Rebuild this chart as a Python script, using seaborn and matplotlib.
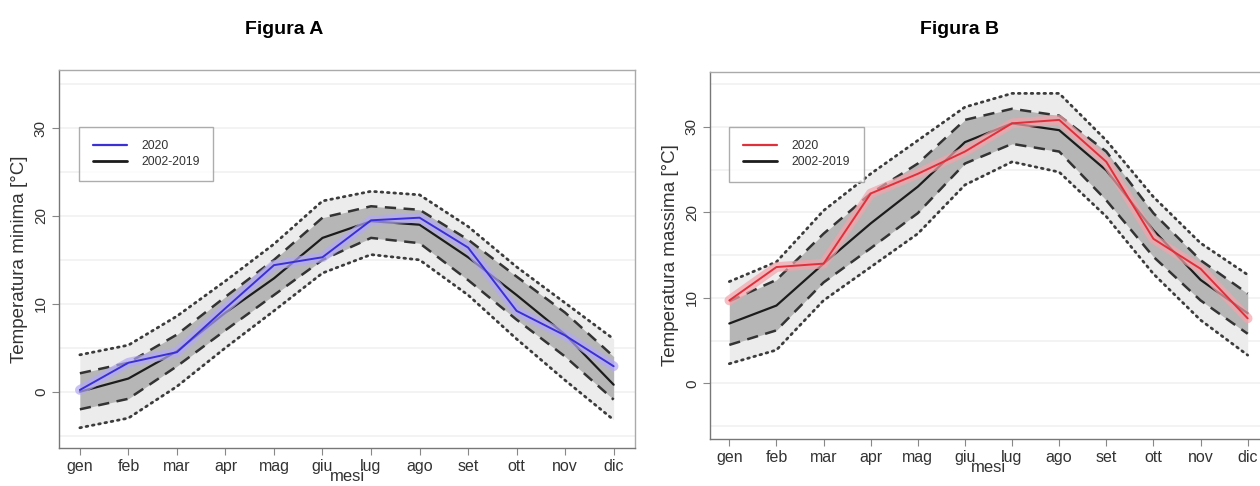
import numpy as np
import pandas as pd
import matplotlib
matplotlib.use("Agg")
import matplotlib.pyplot as plt
import seaborn as sns
from matplotlib.lines import Line2D

months = ["gen", "feb", "mar", "apr", "mag", "giu", "lug", "ago", "set", "ott", "nov", "dic"]

# Figura A - temperatura minima
a_2020 = [0.2, 3.3, 4.5, 9.5, 14.4, 15.3, 19.5, 19.8, 16.4, 9.2, 6.4, 2.9]
a_mean = [0.0, 1.5, 4.6, 9.0, 12.9, 17.5, 19.4, 19.0, 15.3, 11.0, 6.5, 0.8]
a_sd_hi = [2.1, 3.3, 6.5, 10.8, 15.0, 19.8, 21.1, 20.7, 17.3, 13.1, 9.0, 4.0]
a_sd_lo = [-2.0, -0.8, 2.9, 7.0, 11.0, 15.0, 17.5, 16.9, 12.7, 8.2, 4.0, -0.9]
a_2sd_hi = [4.2, 5.3, 8.6, 12.6, 16.8, 21.7, 22.8, 22.4, 18.8, 14.2, 10.1, 6.0]
a_2sd_lo = [-4.1, -3.0, 0.6, 5.0, 9.2, 13.5, 15.6, 15.0, 11.0, 6.0, 1.3, -3.2]

# Figura B - temperatura massima
b_2020 = [9.7, 13.6, 14.0, 22.2, 24.5, 27.1, 30.4, 30.8, 25.9, 16.9, 13.4, 7.6]
b_mean = [7.0, 9.1, 14.0, 18.7, 23.0, 28.2, 30.4, 29.6, 24.9, 17.9, 12.1, 8.2]
b_sd_hi = [9.6, 12.1, 17.5, 22.2, 25.7, 30.8, 32.1, 31.3, 27.1, 19.9, 14.4, 10.5]
b_sd_lo = [4.5, 6.2, 11.8, 15.8, 19.9, 25.7, 28.0, 27.1, 21.4, 14.8, 9.7, 5.8]
b_2sd_hi = [11.9, 14.2, 20.2, 24.5, 28.4, 32.3, 33.9, 33.9, 28.4, 21.8, 16.4, 12.7]
b_2sd_lo = [2.3, 3.9, 9.7, 13.6, 17.5, 23.2, 25.9, 24.7, 19.5, 12.8, 7.4, 3.3]

sns.set_style("white")
plt.rcParams["font.family"] = ["Liberation Sans", "DejaVu Sans"]

W, H = 1260, 486
fig = plt.figure(figsize=(W / 100, H / 100), dpi=100)


def px_axes(left, top, right, bottom):
    return fig.add_axes([left / W, (H - bottom) / H, (right - left) / W, (bottom - top) / H])


def draw_panel(ax, y20, mean, sdhi, sdlo, sd2hi, sd2lo, col, under, ylabel, xlim, ylim):
    x = np.arange(1, 13)
    df = pd.DataFrame({"mese": x, "v2020": y20, "media": mean,
                       "hi1": sdhi, "lo1": sdlo, "hi2": sd2hi, "lo2": sd2lo})
    ax.fill_between(df["mese"], df["lo2"], df["hi2"], color="#ececec", lw=0, zorder=1)
    ax.fill_between(df["mese"], df["lo1"], df["hi1"], color="#b6b6b6", lw=0, zorder=2)
    for c in ["hi2", "lo2"]:
        sns.lineplot(data=df, x="mese", y=c, ax=ax, color="#3c3c3c", lw=2.0,
                     linestyle=(0, (0.6, 1.7)), dash_capstyle="round", zorder=3)
    for c in ["hi1", "lo1"]:
        sns.lineplot(data=df, x="mese", y=c, ax=ax, color="#333333", lw=1.8,
                     linestyle=(0, (4.5, 3)), zorder=3)
    sns.lineplot(data=df, x="mese", y="media", ax=ax, color="#1c1c1c", lw=1.6, zorder=4)
    sns.lineplot(data=df, x="mese", y="v2020", ax=ax, color=under, lw=7, alpha=0.7,
                 zorder=5, solid_capstyle="round")
    sns.lineplot(data=df, x="mese", y="v2020", ax=ax, color=col, lw=1.4, zorder=6)

    ax.set_xlim(*xlim)
    ax.set_ylim(*ylim)
    ax.set_xticks(x)
    ax.set_xticklabels(months, fontsize=11.5, color="#333333")
    ax.set_yticks([0, 10, 20, 30])
    ax.set_yticklabels(["0", "10", "20", "30"], fontsize=11, color="#333333",
                       rotation=90, va="center")
    ax.set_yticks(np.arange(-5, 40, 5), minor=True)
    ax.grid(axis="y", which="both", color="#f1f1f1", lw=1.2, zorder=0)
    ax.set_axisbelow(True)
    ax.tick_params(axis="both", which="major", direction="out", length=5, width=0.8,
                   color="#888888", pad=3, bottom=True, left=True)
    ax.tick_params(axis="y", which="minor", length=0)
    for s in ax.spines.values():
        s.set_color("#aaaaaa")
        s.set_linewidth(1.0)
    ax.spines["left"].set_color("#777777")
    ax.spines["bottom"].set_color("#777777")
    ax.set_xlabel("mesi", fontsize=12, color="#333333", labelpad=-4)
    ax.set_ylabel(ylabel, fontsize=13.5, color="#333333", labelpad=4)

    handles = [Line2D([], [], color=col, lw=1.6), Line2D([], [], color="#1c1c1c", lw=2.0)]
    leg = ax.legend(handles, ["2020", "2002-2019"], loc="upper left",
                    bbox_to_anchor=(0.035, 0.85), fontsize=8.8, frameon=True,
                    fancybox=False, edgecolor="#999999", handlelength=2.8,
                    borderpad=1.1, labelspacing=0.3, handletextpad=1.2,
                    borderaxespad=0)
    leg.get_frame().set_linewidth(1.0)
    for t in leg.get_texts():
        t.set_color("#333333")


axA = px_axes(59, 70, 635, 448)
draw_panel(axA, a_2020, a_mean, a_sd_hi, a_sd_lo, a_2sd_hi, a_2sd_lo,
           "#3b2fd6", "#b3a9f5", "Temperatura minima [°C]", (0.57, 12.44), (-6.4, 36.6))

axB = px_axes(710, 72, 1267, 439)
draw_panel(axB, b_2020, b_mean, b_sd_hi, b_sd_lo, b_2sd_hi, b_2sd_lo,
           "#e0303c", "#f4a3aa", "Temperatura massima [°C]", (0.59, 12.41), (-6.5, 36.4))

fig.text(284 / W, 1 - 29 / H, "Figura A", ha="center", va="center",
         fontsize=14, fontweight="bold", color="black")
fig.text(960 / W, 1 - 29 / H, "Figura B", ha="center", va="center",
         fontsize=14, fontweight="bold", color="black")

fig.savefig("out.png", dpi=100, facecolor="white")
